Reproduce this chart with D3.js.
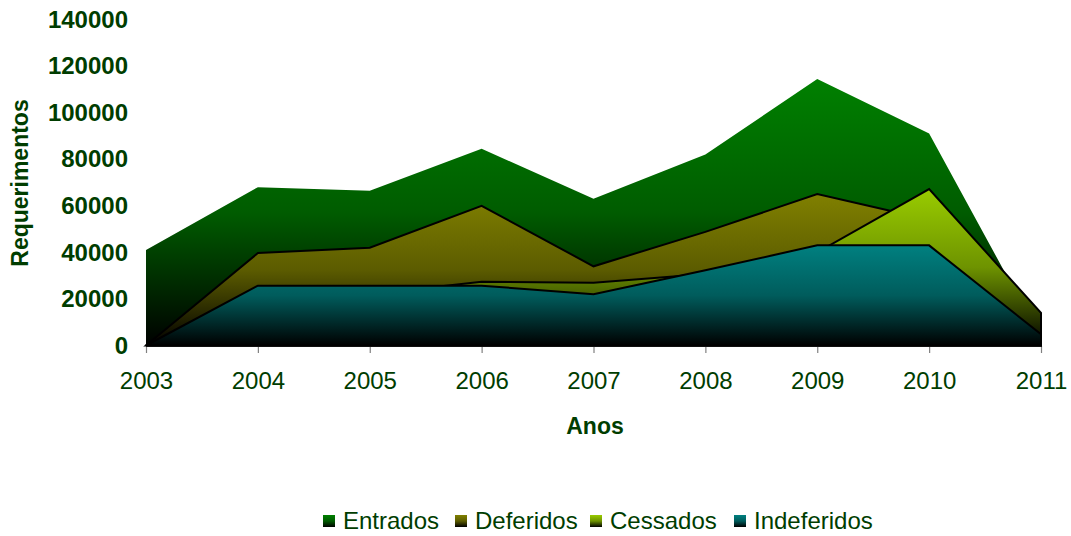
<!DOCTYPE html>
<html><head><meta charset="utf-8">
<script src="https://cdn.jsdelivr.net/npm/d3@7"></script>
<style>
html,body{margin:0;padding:0;background:#fff;}
svg{display:block;font-family:"Liberation Sans",Arial,sans-serif;}
</style></head>
<body>
<svg id="chart" width="1071" height="536"></svg>
<script>
const years = ["2003","2004","2005","2006","2007","2008","2009","2010","2011"];
const entrados    = [41000, 68000, 66500, 84500, 63000, 82000, 114500, 91000, 3000];
const deferidos   = [0, 39700, 42000, 60000, 34000, 48800, 65000, 54000, 13000];
const cessados    = [0, 20000, 22000, 27400, 27000, 30700, 40000, 67200, 14000];
const indeferidos = [0, 25700, 25700, 25700, 22000, 32300, 43000, 43000, 4800];
const seriesNames = ["Entrados", "Deferidos", "Cessados", "Indeferidos"];
const seriesColors = ["#008000", "#808000", "#99cc00", "#008080"];
const yTicks = [0, 20000, 40000, 60000, 80000, 100000, 120000, 140000];

const seriesData = [entrados, deferidos, cessados, indeferidos];
const svg = d3.select("#chart");
const x = d3.scalePoint().domain(years).range([146, 1041]);
const y = d3.scaleLinear().domain([0, 140000]).range([345.5, 19.5]);
const textColor = "#003d00";

const defs = svg.append("defs");
function shade(c, k){ const r = d3.rgb(c); return d3.rgb(r.r*k, r.g*k, r.b*k).toString(); }
seriesColors.forEach((c, i) => {
  const g = defs.append("linearGradient").attr("id", "g" + i)
    .attr("x1", 0).attr("y1", 0).attr("x2", 0).attr("y2", 1);
  g.append("stop").attr("offset", "0%").attr("stop-color", c);
  g.append("stop").attr("offset", "50%").attr("stop-color", shade(c, 0.72));
  g.append("stop").attr("offset", "100%").attr("stop-color", "#000");
});

// x axis line and ticks
const axisG = svg.append("g").attr("transform", "translate(0,346)");
const xAxis = d3.axisBottom(x).tickSize(7).tickPadding(19);
axisG.call(xAxis);
axisG.select(".domain").attr("stroke", "#808080").attr("stroke-width", 1);
axisG.selectAll(".tick line").attr("stroke", "#808080").attr("stroke-width", 1.2);
axisG.selectAll(".tick text").attr("fill", textColor).attr("font-size", 24)
  .attr("font-family", "Liberation Sans, Arial, sans-serif");

// areas
const area = d3.area()
  .x((d, i) => x(years[i]))
  .y0(y(0))
  .y1(d => y(d));
seriesData.forEach((s, i) => {
  svg.append("path").datum(s)
    .attr("d", area)
    .attr("fill", "url(#g" + i + ")")
    .attr("stroke", i === 0 ? "none" : "#000")
    .attr("stroke-width", i === 0 ? 0 : 2)
    .attr("stroke-linejoin", "miter");
});

// y axis labels (no line)
const yAxisG = svg.append("g").attr("transform", "translate(128,0)");
yAxisG.call(d3.axisLeft(y).tickValues(yTicks).tickSize(0).tickPadding(0).tickFormat(d3.format("d")));
yAxisG.select(".domain").remove();
yAxisG.selectAll(".tick text").attr("fill", textColor).attr("font-size", 24)
  .attr("font-weight", "bold").attr("font-family", "Liberation Sans, Arial, sans-serif");

// axis titles
svg.append("text").attr("x", 595).attr("y", 434).attr("text-anchor", "middle")
  .attr("fill", textColor).attr("font-size", 23).attr("font-weight", "bold").text("Anos");
svg.append("text").attr("transform", "translate(28,183) rotate(-90)").attr("text-anchor", "middle")
  .attr("fill", textColor).attr("font-size", 23).attr("font-weight", "bold").text("Requerimentos");

// legend
const legendX = [323, 455, 590, 734];
const lg = svg.append("g");
seriesNames.forEach((n, i) => {
  lg.append("rect").attr("x", legendX[i]).attr("y", 515).attr("width", 12).attr("height", 12)
    .attr("fill", "url(#g" + i + ")");
  lg.append("text").attr("x", legendX[i] + 20).attr("y", 529)
    .attr("fill", textColor).attr("font-size", 24).text(n);
});
</script>
</body></html>
